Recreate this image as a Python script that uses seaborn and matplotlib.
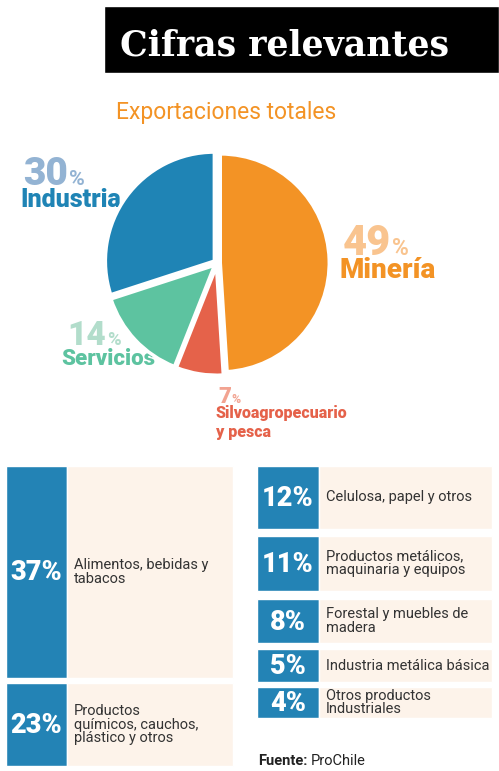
import matplotlib
matplotlib.use("Agg")
import matplotlib.pyplot as plt
import seaborn as sns

# pie: total exports by sector
sectors = ["Minería", "Silvoagropecuario\ny pesca", "Servicios", "Industria"]
shares = [49, 7, 14, 30]
colors = ["#F39325", "#E5624A", "#5DC3A0", "#1F84B5"]
light_colors = ["#F9C48F", "#F2A391", "#B2DDCB", "#93B3D3"]

# industry breakdown
left_pct = [37, 23]
left_labels = ["Alimentos, bebidas y\ntabacos", "Productos\nquímicos, cauchos,\nplástico y otros"]
right_pct = [12, 11, 8, 5, 4]
right_labels = ["Celulosa, papel y otros",
                "Productos metálicos,\nmaquinaria y equipos",
                "Forestal y muebles de\nmadera",
                "Industria metálica básica",
                "Otros productos\nIndustriales"]

sns.set_theme(style="white")
plt.rcParams["font.family"] = ["Roboto", "DejaVu Sans"]

W, H = 499, 771
fig = plt.figure(figsize=(W / 100, H / 100), dpi=100)
fig.patch.set_facecolor("white")

# overlay axes in pixel coords
ov = fig.add_axes([0, 0, 1, 1])
ov.set_xlim(0, W)
ov.set_ylim(H, 0)
ov.axis("off")

# title box
ov.barh([39.5], [395], height=67, left=104, color="black")
ov.text(120, 55, "Cifras relevantes", color="white", fontsize=25, fontweight="bold",
        family="DejaVu Serif", va="baseline", ha="left")
ov.text(116, 119, "Exportaciones totales", color="#F39325", fontsize=16.5,
        va="baseline", ha="left")

# pie
cx, cy, r = 217, 263, 109
span = 1.1 * r
pax = fig.add_axes([(cx - span) / W, (H - cy - span) / H, 2 * span / W, 2 * span / H])
pax.pie(shares, colors=colors, startangle=90, counterclock=False,
        explode=[0.03] * len(shares),
        wedgeprops=dict(edgecolor="white", linewidth=2.5))
pax.set_xlim(-1.1, 1.1)
pax.set_ylim(-1.1, 1.1)
pax.axis("off")

fig.canvas.draw()
renderer = fig.canvas.get_renderer()


def pct_label(x, y, num, color, size):
    t = ov.text(x, y, str(num), color=color, fontsize=size, fontweight=900,
                va="baseline", ha="left")
    bb = t.get_window_extent(renderer)
    ov.text(bb.x1 + 1, y, "%", color=color, fontsize=size * 0.55, fontweight="bold",
            va="baseline", ha="left")


# (x, baseline y, size) for each pie label, same order as sectors
pct_pos = [(343, 255, 30), (218, 403, 16), (67, 345, 24), (23, 185, 28)]
name_pos = [(340, 278, 20), (216, 418, 11.5), (61, 365, 16), (20, 207, 18)]
line_gap = [0, 19, 0, 0]
for i in range(len(sectors)):
    x, y, s = pct_pos[i]
    pct_label(x, y, shares[i], light_colors[i], s)
    x, y, s = name_pos[i]
    for j, line in enumerate(sectors[i].split("\n")):
        ov.text(x, y + j * line_gap[i], line, color=colors[i], fontsize=s,
                fontweight=900, va="baseline", ha="left")

# tiles
blue = "#2383B5"
beige = "#FDF3EA"
textc = "#333333"
left_rows = [(466, 678), (683, 766)]
right_rows = [(466, 529), (536, 591), (599, 643), (649, 682), (687, 718)]


def tiles(rows, pcts, labels, x0, x1, x2, tx):
    centers = [(a + b) / 2 for a, b in rows]
    heights = [b - a for a, b in rows]
    ov.barh(centers, [x1 - x0] * len(rows), height=heights, left=x0, color=blue)
    ov.barh(centers, [x2 - x1] * len(rows), height=heights, left=x1, color=beige)
    for c, p, lab in zip(centers, pcts, labels):
        ov.text((x0 + x1) / 2, c + 1, f"{p}%", color="white", fontsize=19.5,
                fontweight=900, ha="center", va="center")
        ov.text(tx, c, lab, color=textc, fontsize=10.5, ha="left", va="center",
                linespacing=0.95)


tiles(left_rows, left_pct, left_labels, 6, 67, 233, 74)
tiles(right_rows, right_pct, right_labels, 257, 319, 492, 326)

# source
f1 = ov.text(258, 765, "Fuente:", color="#222222", fontsize=10.5, fontweight="bold",
             va="baseline", ha="left")
bb = f1.get_window_extent(renderer)
ov.text(bb.x1 + 3, 765, "ProChile", color="#222222", fontsize=10.5,
        va="baseline", ha="left")

fig.savefig("out.png", dpi=100, facecolor="white")
